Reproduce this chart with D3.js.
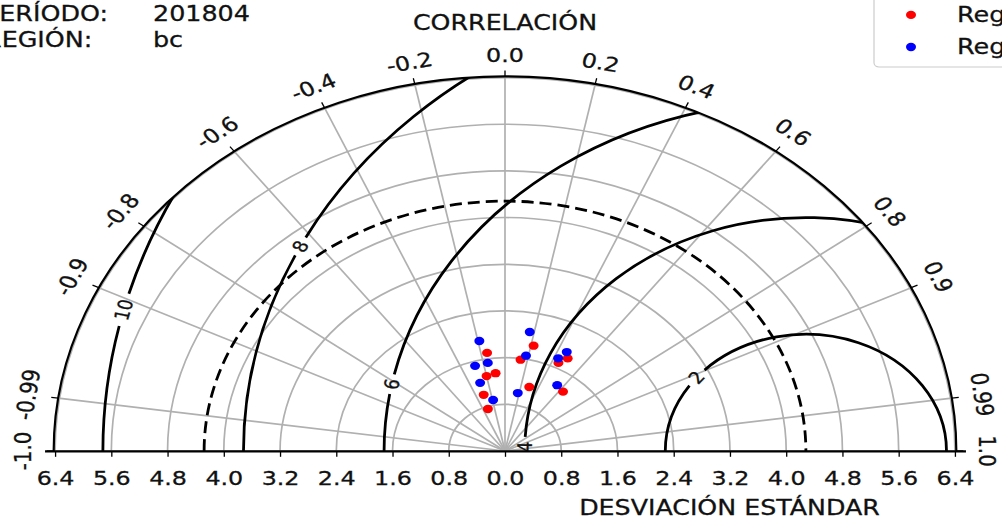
<!DOCTYPE html>
<html>
<head>
<meta charset="utf-8">
<script src="https://cdn.jsdelivr.net/npm/d3@7"></script>
<style>
  body { margin: 0; background: #fff; }
  svg { display: block; font-family: "DejaVu Sans", sans-serif; }
  svg text { fill: #111; stroke: #111; stroke-width: 0.35px; }
</style>
</head>
<body>
<svg id="chart" width="1002" height="520"></svg>
<script>
// series: standard deviation and correlation of each model point
const redStd = [1.70, 1.31, 1.34, 1.01, 0.76, 1.85, 1.58, 1.15, 1.69, 1.82, 1.31];
const redCorr = [-0.15, -0.20, -0.10, -0.30, -0.32, 0.22, 0.14, 0.30, 0.45, 0.49, 0.63];
const blueStd = [1.92, 1.52, 1.53, 1.22, 0.89, 2.07, 1.66, 1.01, 1.91, 1.76, 1.35];
const blueCorr = [-0.19, -0.28, -0.16, -0.29, -0.19, 0.17, 0.18, 0.18, 0.46, 0.43, 0.55];

const refStd = 4.28;
const rmsLevels = [2, 4, 6, 8, 10];
const rmsLabelAngle = [141, 179, 169, 154, 166];   // where the inline labels sit (deg)
const corrTicks = [-1, -0.99, -0.9, -0.8, -0.6, -0.4, -0.2, 0, 0.2, 0.4, 0.6, 0.8, 0.9, 0.99, 1];
const stdTicks = [-6.4, -5.6, -4.8, -4.0, -3.2, -2.4, -1.6, -0.8, 0, 0.8, 1.6, 2.4, 3.2, 4.0, 4.8, 5.6, 6.4];
const stdGrid = [0.8, 1.6, 2.4, 3.2, 4.0, 4.8, 5.6, 6.4];
const legendLabels = ['Reg. 1', 'Reg. 2'];
const headerKeys = ['PERÍODO:', 'REGIÓN:'];
const headerVals = ['201804', 'bc'];

const K = 0.83;            // picture is squashed vertically
const cx = 505, cy = 451 / K;
const unit = 70.3;
const rMax = 6.42;

const r = d3.scaleLinear().domain([0, rMax]).range([0, rMax * unit]);
const xAxisScale = d3.scaleLinear().domain([-6.55, 6.55]).range([cx - 6.55 * unit, cx + 6.55 * unit]);

function pt(s, c) {
  return [cx + r(s) * c, cy - r(s) * Math.sqrt(1 - c * c)];
}

const svg = d3.select('#chart');
const g = svg.append('g').attr('transform', `scale(1,${K})`);

g.append('clipPath').attr('id', 'half')
  .append('path')
  .attr('d', `M${cx - r(rMax)},${cy} A${r(rMax)},${r(rMax)} 0 0 1 ${cx + r(rMax)},${cy} Z`);

// grid arcs
const grid = g.append('g').attr('fill', 'none').attr('stroke', '#b0b0b0').attr('stroke-width', 1.7);
stdGrid.forEach(s => {
  const p = d3.path();
  p.moveTo(cx - r(s), cy);
  p.arc(cx, cy, r(s), Math.PI, 2 * Math.PI);
  grid.append('path').attr('d', p.toString()).attr('vector-effect', 'non-scaling-stroke');
});
// radial grid
corrTicks.forEach(c => {
  const [x, y] = pt(rMax, c);
  grid.append('line').attr('x1', cx).attr('y1', cy).attr('x2', x).attr('y2', y)
    .attr('vector-effect', 'non-scaling-stroke');
});

// rms contours, broken where the label sits
const cont = g.append('g').attr('clip-path', 'url(#half)').attr('fill', 'none')
  .attr('stroke', '#000').attr('stroke-width', 2.8);
const refX = cx + r(refStd);
rmsLevels.forEach((lv, i) => {
  const rr = r(lv);
  const sL = 2 * Math.PI - rmsLabelAngle[i] * Math.PI / 180;
  const gap = (lv >= 10 ? 20 : 12) / rr;
  const segs = [[Math.PI, sL - gap], [sL + gap, 2 * Math.PI]];
  segs.forEach(([a0, a1]) => {
    if (a1 <= a0) return;
    const p = d3.path();
    p.moveTo(refX + rr * Math.cos(a0), cy + rr * Math.sin(a0));
    p.arc(refX, cy, rr, a0, a1);
    cont.append('path').attr('d', p.toString()).attr('vector-effect', 'non-scaling-stroke');
  });
  const a = rmsLabelAngle[i] * Math.PI / 180;
  const lx = refX + rr * Math.cos(a), ly = cy - rr * Math.sin(a);
  g.append('text').attr('x', lx).attr('y', ly)
    .attr('transform', `rotate(${90 - rmsLabelAngle[i]},${lx},${ly})`)
    .attr('text-anchor', 'middle').attr('dominant-baseline', 'central')
    .attr('font-size', 20).text(lv);
});

// reference std arc (dashed)
{
  const p = d3.path();
  p.moveTo(cx - r(refStd), cy);
  p.arc(cx, cy, r(refStd), Math.PI, 2 * Math.PI);
  g.append('path').attr('d', p.toString()).attr('fill', 'none').attr('stroke', '#000')
    .attr('stroke-width', 2.8).attr('stroke-dasharray', '12,6')
    .attr('vector-effect', 'non-scaling-stroke');
}

// outer frame
{
  const p = d3.path();
  p.moveTo(cx - r(rMax), cy);
  p.arc(cx, cy, r(rMax), Math.PI, 2 * Math.PI);
  g.append('path').attr('d', p.toString()).attr('fill', 'none').attr('stroke', '#000')
    .attr('stroke-width', 2.2).attr('vector-effect', 'non-scaling-stroke');
}

// correlation ticks and labels
corrTicks.forEach(c => {
  const th = Math.acos(c);
  const ux = Math.cos(th), uy = -Math.sin(th);
  const x0 = cx + r(rMax) * ux, y0 = cy + r(rMax) * uy;
  g.append('line').attr('x1', x0).attr('y1', y0).attr('x2', x0 + 7 * ux).attr('y2', y0 + 7 * uy)
    .attr('stroke', '#000').attr('stroke-width', 1.3).attr('vector-effect', 'non-scaling-stroke');
  const d = 25 + 5.5 * Math.abs(c);
  const lx = x0 + d * ux, ly = y0 + d * uy;
  const lab = (c === 0 || Math.abs(c) === 1) ? c.toFixed(1) : String(c);
  g.append('text').attr('x', lx).attr('y', ly)
    .attr('transform', `rotate(${90 - th * 180 / Math.PI},${lx},${ly})`)
    .attr('text-anchor', 'middle').attr('dominant-baseline', 'central')
    .attr('font-size', 23.8).text(lab);
});

// std axis
const ax = g.append('g').attr('transform', `translate(0,${cy})`)
  .call(d3.axisBottom(xAxisScale).tickValues(stdTicks)
    .tickFormat(d => Math.abs(d).toFixed(1)).tickSize(7).tickSizeOuter(0));
ax.select('.domain').attr('stroke-width', 2.2).attr('vector-effect', 'non-scaling-stroke');
ax.selectAll('.tick line').attr('stroke-width', 1.3).attr('vector-effect', 'non-scaling-stroke');
ax.selectAll('.tick text').attr('y', 40.5).attr('dy', null)
  .attr('font-size', 23.8).attr('font-family', '"DejaVu Sans", sans-serif');

// points
const pts = g.append('g');
[[redStd, redCorr, '#ff0000'], [blueStd, blueCorr, '#0000ff']].forEach(([ss, cc, col]) => {
  ss.forEach((s, i) => {
    const [x, y] = pt(s, cc[i]);
    pts.append('circle').attr('cx', x).attr('cy', y).attr('r', 5).attr('fill', col);
  });
});

// titles
g.append('text').attr('x', 505).attr('y', 36).attr('text-anchor', 'middle')
  .attr('font-size', 25.3).text('CORRELACIÓN');
g.append('text').attr('x', 729.5).attr('y', 620.5).attr('text-anchor', 'middle')
  .attr('font-size', 25.3).text('DESVIACIÓN ESTÁNDAR');

// header
headerKeys.forEach((k, i) => {
  const y = i === 0 ? 25.3 : 56.6;
  g.append('text').attr('x', -16).attr('y', y).attr('font-size', 25.4).text(k);
  g.append('text').attr('x', 153).attr('y', y).attr('font-size', 25.4).text(headerVals[i]);
});

// legend
const leg = g.append('g');
leg.append('rect').attr('x', 874).attr('y', -10).attr('width', 200).attr('height', 90.7)
  .attr('rx', 5).attr('fill', '#fff').attr('fill-opacity', 0.8)
  .attr('stroke', '#cccccc').attr('stroke-width', 1.2).attr('vector-effect', 'non-scaling-stroke');
['#ff0000', '#0000ff'].forEach((col, i) => {
  const y = i === 0 ? 18 : 56.6;
  leg.append('circle').attr('cx', 911).attr('cy', y).attr('r', 5).attr('fill', col);
  leg.append('text').attr('x', 957).attr('y', y + 8.5).attr('font-size', 25.5).text(legendLabels[i]);
});
</script>
</body>
</html>
